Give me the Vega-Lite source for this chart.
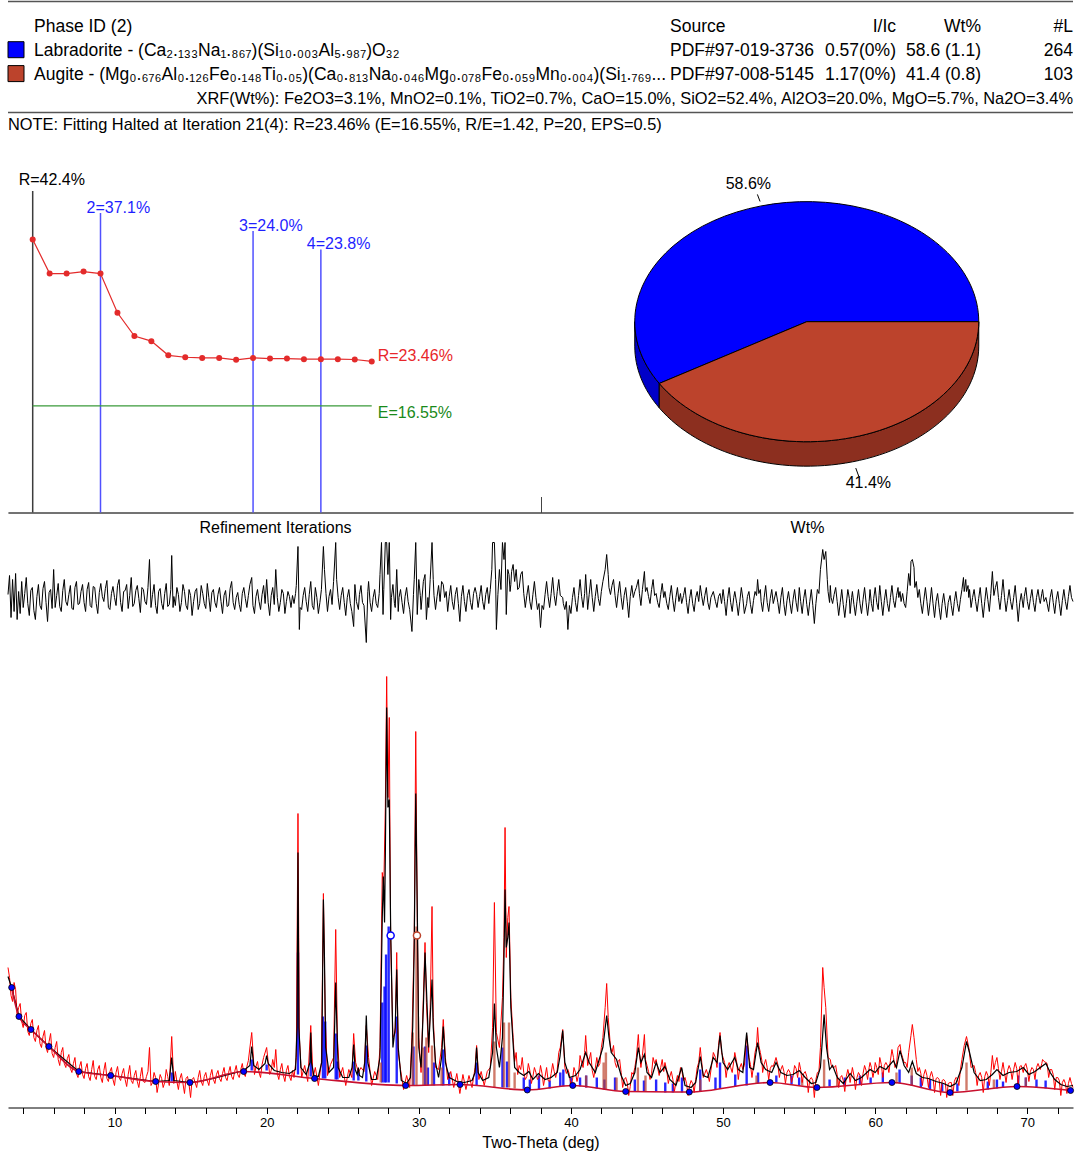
{
"$schema": "https://vega.github.io/schema/vega-lite/v6.json",
"padding": {"left": 5, "top": 0.5, "right": 8, "bottom": 4},
"background": "white",
"bounds": "flush",
"spacing": 0,
"config": {"font": "Liberation Sans", "view": {"stroke": null}, "axis": {"grid": false}},
"datasets": {
"table": [
{"row": "hdr", "name": "Phase ID (2)", "source": "Source", "iic": "I/Ic", "wtText": "Wt%", "nl": "#L"},
{"row": "Labradorite", "name": "Labradorite - (Ca₂.₁₃₃Na₁.₈₆₇)(Si₁₀.₀₀₃Al₅.₉₈₇)O₃₂", "source": "PDF#97-019-3736", "iic": "0.57(0%)", "wtText": "58.6 (1.1)", "nl": "264"},
{"row": "Augite", "name": "Augite - (Mg₀.₆₇₆Al₀.₁₂₆Fe₀.₁₄₈Ti₀.₀₅)(Ca₀.₈₁₃Na₀.₀₄₆Mg₀.₀₇₈Fe₀.₀₅₉Mn₀.₀₀₄)(Si₁.₇₆₉...", "source": "PDF#97-008-5145", "iic": "1.17(0%)", "wtText": "41.4 (0.8)", "nl": "103"}
],
"xrf": [{"row": "xrf", "text": "XRF(Wt%): Fe2O3=3.1%, MnO2=0.1%, TiO2=0.7%, CaO=15.0%, SiO2=52.4%, Al2O3=20.0%, MgO=5.7%, Na2O=3.4%"}],
"pie": [{"phase": "Labradorite", "wt": 58.6, "label": "58.6%"}, {"phase": "Augite", "wt": 41.4, "label": "41.4%"}],
"iters": [{"it":0,"R":42.4},{"it":1,"R":37.1},{"it":2,"R":37.1},{"it":3,"R":37.4},{"it":4,"R":37.1},{"it":5,"R":31.0},{"it":6,"R":27.4},{"it":7,"R":26.6},{"it":8,"R":24.4},{"it":9,"R":24.1},{"it":10,"R":24.0},{"it":11,"R":24.0},{"it":12,"R":23.7},{"it":13,"R":24.0},{"it":14,"R":23.9},{"it":15,"R":23.9},{"it":16,"R":23.8},{"it":17,"R":23.8},{"it":18,"R":23.8},{"it":19,"R":23.75},{"it":20,"R":23.46}],
"stages": [{"it":0,"R":42.4,"kind":"start","label":"R=42.4%","top":49.9},{"it":4,"R":37.1,"kind":"stage","label":"2=37.1%","top":46.5},{"it":13,"R":24.0,"kind":"stage","label":"3=24.0%","top":43.7},{"it":17,"R":23.8,"kind":"stage","label":"4=23.8%","top":40.85}],
"fit": [{"first":0,"last":20,"R":23.46,"E":16.55,"rText":"R=23.46%","eText":"E=16.55%"}],
"obs": [{"t":3,"y":140},{"t":3.2,"y":112},{"t":3.4,"y":125},{"t":3.6,"y":92},{"t":3.8,"y":104},{"t":4,"y":80},{"t":4.2,"y":95},{"t":4.4,"y":72},{"t":4.6,"y":88},{"t":4.8,"y":66},{"t":5,"y":82},{"t":5.2,"y":60},{"t":5.4,"y":77},{"t":5.6,"y":55},{"t":5.8,"y":74},{"t":6,"y":50},{"t":6.2,"y":66},{"t":6.4,"y":42},{"t":6.6,"y":60},{"t":6.8,"y":40},{"t":7,"y":53},{"t":7.2,"y":35},{"t":7.4,"y":50},{"t":7.6,"y":30},{"t":7.8,"y":46},{"t":8,"y":29},{"t":8.2,"y":44},{"t":8.4,"y":27},{"t":8.6,"y":47},{"t":8.8,"y":28},{"t":9,"y":42},{"t":9.2,"y":25},{"t":9.4,"y":45},{"t":9.6,"y":26},{"t":9.8,"y":40},{"t":10,"y":22},{"t":10.2,"y":41},{"t":10.4,"y":27},{"t":10.6,"y":39},{"t":10.8,"y":21},{"t":11,"y":42},{"t":11.2,"y":24},{"t":11.4,"y":37},{"t":11.6,"y":20},{"t":11.8,"y":40},{"t":12,"y":25},{"t":12.2,"y":36},{"t":12.3,"y":60},{"t":12.4,"y":22},{"t":12.6,"y":35},{"t":12.8,"y":15},{"t":13,"y":33},{"t":13.2,"y":20},{"t":13.4,"y":38},{"t":13.6,"y":22},{"t":13.76,"y":71},{"t":13.9,"y":24},{"t":14,"y":36},{"t":14.2,"y":18},{"t":14.4,"y":34},{"t":14.6,"y":14},{"t":14.8,"y":31},{"t":15,"y":10},{"t":15.2,"y":30},{"t":15.4,"y":20},{"t":15.6,"y":37},{"t":15.8,"y":22},{"t":16,"y":35},{"t":16.2,"y":22},{"t":16.4,"y":38},{"t":16.6,"y":24},{"t":16.8,"y":37},{"t":17,"y":26},{"t":17.2,"y":40},{"t":17.4,"y":27},{"t":17.6,"y":41},{"t":17.8,"y":28},{"t":18,"y":42},{"t":18.2,"y":30},{"t":18.4,"y":44},{"t":18.6,"y":31},{"t":18.8,"y":47},{"t":19.02,"y":75},{"t":19.2,"y":33},{"t":19.4,"y":46},{"t":19.6,"y":30},{"t":19.8,"y":50},{"t":20,"y":60},{"t":20.2,"y":33},{"t":20.4,"y":48},{"t":20.6,"y":58},{"t":20.8,"y":28},{"t":21,"y":44},{"t":21.2,"y":26},{"t":21.4,"y":42},{"t":21.6,"y":27},{"t":21.8,"y":30},{"t":21.95,"y":50},{"t":22.06,"y":294},{"t":22.15,"y":70},{"t":22.3,"y":30},{"t":22.5,"y":42},{"t":22.7,"y":26},{"t":22.9,"y":82},{"t":23.05,"y":30},{"t":23.2,"y":40},{"t":23.4,"y":22},{"t":23.6,"y":45},{"t":23.73,"y":214},{"t":23.85,"y":90},{"t":24,"y":32},{"t":24.2,"y":43},{"t":24.4,"y":50},{"t":24.54,"y":178},{"t":24.65,"y":70},{"t":24.8,"y":30},{"t":25,"y":40},{"t":25.2,"y":22},{"t":25.4,"y":38},{"t":25.6,"y":30},{"t":25.72,"y":74},{"t":25.85,"y":45},{"t":26.03,"y":35},{"t":26.2,"y":40},{"t":26.4,"y":36},{"t":26.55,"y":82},{"t":26.7,"y":50},{"t":26.9,"y":22},{"t":27.1,"y":36},{"t":27.3,"y":28},{"t":27.45,"y":60},{"t":27.6,"y":235},{"t":27.7,"y":220},{"t":27.8,"y":300},{"t":27.89,"y":431},{"t":27.97,"y":310},{"t":28.06,"y":390},{"t":28.15,"y":170},{"t":28.3,"y":70},{"t":28.45,"y":75},{"t":28.55,"y":155},{"t":28.65,"y":55},{"t":28.8,"y":38},{"t":29,"y":18},{"t":29.2,"y":32},{"t":29.4,"y":20},{"t":29.55,"y":70},{"t":29.7,"y":170},{"t":29.8,"y":376},{"t":29.9,"y":190},{"t":30,"y":70},{"t":30.15,"y":35},{"t":30.3,"y":110},{"t":30.41,"y":165},{"t":30.5,"y":105},{"t":30.65,"y":55},{"t":30.75,"y":100},{"t":30.87,"y":201},{"t":30.95,"y":90},{"t":31.1,"y":40},{"t":31.3,"y":38},{"t":31.5,"y":60},{"t":31.61,"y":88},{"t":31.75,"y":50},{"t":31.9,"y":28},{"t":32.1,"y":36},{"t":32.3,"y":20},{"t":32.5,"y":34},{"t":32.7,"y":14},{"t":32.9,"y":33},{"t":33.1,"y":18},{"t":33.3,"y":32},{"t":33.5,"y":20},{"t":33.7,"y":40},{"t":33.8,"y":62},{"t":33.95,"y":28},{"t":34.1,"y":36},{"t":34.3,"y":22},{"t":34.5,"y":36},{"t":34.7,"y":40},{"t":34.85,"y":80},{"t":34.97,"y":205},{"t":35.1,"y":75},{"t":35.3,"y":60},{"t":35.5,"y":110},{"t":35.6,"y":170},{"t":35.67,"y":280},{"t":35.75,"y":150},{"t":35.85,"y":190},{"t":35.93,"y":201},{"t":36.05,"y":110},{"t":36.2,"y":70},{"t":36.4,"y":55},{"t":36.6,"y":42},{"t":36.8,"y":50},{"t":37,"y":28},{"t":37.2,"y":44},{"t":37.4,"y":24},{"t":37.6,"y":40},{"t":37.8,"y":28},{"t":38,"y":42},{"t":38.2,"y":22},{"t":38.4,"y":40},{"t":38.6,"y":26},{"t":38.8,"y":44},{"t":39,"y":30},{"t":39.2,"y":55},{"t":39.46,"y":78},{"t":39.6,"y":40},{"t":39.8,"y":38},{"t":40,"y":22},{"t":40.2,"y":40},{"t":40.4,"y":26},{"t":40.6,"y":52},{"t":40.8,"y":40},{"t":40.97,"y":72},{"t":41.1,"y":42},{"t":41.3,"y":55},{"t":41.5,"y":30},{"t":41.7,"y":50},{"t":41.9,"y":44},{"t":42.1,"y":70},{"t":42.25,"y":100},{"t":42.35,"y":124},{"t":42.45,"y":90},{"t":42.6,"y":60},{"t":42.8,"y":62},{"t":43,"y":40},{"t":43.2,"y":48},{"t":43.4,"y":20},{"t":43.6,"y":30},{"t":43.8,"y":12},{"t":44,"y":35},{"t":44.2,"y":40},{"t":44.43,"y":73},{"t":44.6,"y":40},{"t":44.83,"y":73},{"t":45,"y":42},{"t":45.2,"y":28},{"t":45.4,"y":50},{"t":45.6,"y":48},{"t":45.8,"y":32},{"t":46,"y":48},{"t":46.18,"y":45},{"t":46.4,"y":24},{"t":46.6,"y":36},{"t":46.8,"y":16},{"t":47,"y":32},{"t":47.28,"y":38},{"t":47.5,"y":30},{"t":47.7,"y":12},{"t":47.9,"y":27},{"t":48.1,"y":15},{"t":48.3,"y":40},{"t":48.5,"y":60},{"t":48.7,"y":30},{"t":48.9,"y":38},{"t":49.1,"y":26},{"t":49.36,"y":55},{"t":49.6,"y":40},{"t":49.8,"y":75},{"t":50,"y":50},{"t":50.2,"y":30},{"t":50.4,"y":45},{"t":50.6,"y":35},{"t":50.77,"y":55},{"t":51,"y":28},{"t":51.2,"y":44},{"t":51.4,"y":42},{"t":51.55,"y":72},{"t":51.7,"y":50},{"t":51.9,"y":30},{"t":52.1,"y":55},{"t":52.27,"y":80},{"t":52.45,"y":55},{"t":52.6,"y":35},{"t":52.8,"y":48},{"t":53,"y":28},{"t":53.2,"y":42},{"t":53.48,"y":50},{"t":53.7,"y":30},{"t":53.9,"y":42},{"t":54.1,"y":24},{"t":54.3,"y":38},{"t":54.5,"y":25},{"t":54.7,"y":42},{"t":54.9,"y":30},{"t":55.01,"y":45},{"t":55.2,"y":25},{"t":55.4,"y":36},{"t":55.6,"y":15},{"t":55.8,"y":30},{"t":56,"y":10},{"t":56.2,"y":35},{"t":56.4,"y":60},{"t":56.55,"y":140},{"t":56.64,"y":120},{"t":56.75,"y":100},{"t":56.9,"y":50},{"t":57.05,"y":48},{"t":57.2,"y":40},{"t":57.4,"y":42},{"t":57.6,"y":20},{"t":57.8,"y":32},{"t":58,"y":16},{"t":58.2,"y":38},{"t":58.35,"y":25},{"t":58.5,"y":40},{"t":58.7,"y":18},{"t":58.9,"y":35},{"t":59.1,"y":22},{"t":59.3,"y":42},{"t":59.5,"y":28},{"t":59.66,"y":45},{"t":59.85,"y":30},{"t":60,"y":45},{"t":60.2,"y":33},{"t":60.3,"y":50},{"t":60.5,"y":30},{"t":60.7,"y":45},{"t":60.9,"y":35},{"t":61.1,"y":58},{"t":61.3,"y":40},{"t":61.5,"y":60},{"t":61.63,"y":63},{"t":61.8,"y":50},{"t":62,"y":45},{"t":62.2,"y":55},{"t":62.35,"y":72},{"t":62.44,"y":83},{"t":62.55,"y":70},{"t":62.7,"y":48},{"t":62.9,"y":40},{"t":63.1,"y":22},{"t":63.3,"y":38},{"t":63.5,"y":20},{"t":63.7,"y":36},{"t":63.9,"y":15},{"t":64.1,"y":30},{"t":64.3,"y":12},{"t":64.5,"y":28},{"t":64.7,"y":10},{"t":64.92,"y":25},{"t":65.1,"y":12},{"t":65.3,"y":30},{"t":65.5,"y":22},{"t":65.7,"y":48},{"t":65.85,"y":62},{"t":66,"y":71},{"t":66.15,"y":60},{"t":66.3,"y":40},{"t":66.5,"y":42},{"t":66.7,"y":22},{"t":66.9,"y":35},{"t":67.1,"y":15},{"t":67.3,"y":36},{"t":67.5,"y":22},{"t":67.7,"y":52},{"t":67.9,"y":45},{"t":68,"y":50},{"t":68.2,"y":28},{"t":68.4,"y":45},{"t":68.6,"y":25},{"t":68.8,"y":42},{"t":69,"y":28},{"t":69.2,"y":45},{"t":69.4,"y":22},{"t":69.6,"y":42},{"t":69.73,"y":35},{"t":69.9,"y":44},{"t":70.1,"y":26},{"t":70.3,"y":40},{"t":70.5,"y":28},{"t":70.7,"y":44},{"t":70.85,"y":38},{"t":71,"y":48},{"t":71.22,"y":45},{"t":71.4,"y":30},{"t":71.6,"y":38},{"t":71.8,"y":18},{"t":72,"y":30},{"t":72.2,"y":12},{"t":72.4,"y":28},{"t":72.6,"y":14},{"t":72.8,"y":30},{"t":73,"y":20},
{"t":3.1,"y":130},{"t":3.3,"y":106},{"t":3.5,"y":118},{"t":3.7,"y":100},{"t":3.9,"y":86},{"t":4.1,"y":92},{"t":4.3,"y":76},{"t":4.5,"y":84},{"t":4.7,"y":70},{"t":4.9,"y":77},{"t":5.1,"y":64},{"t":5.3,"y":71},{"t":5.5,"y":60},{"t":5.7,"y":66},{"t":5.9,"y":54},{"t":6.1,"y":60},{"t":6.3,"y":48},{"t":6.5,"y":55},{"t":6.7,"y":44},{"t":6.9,"y":49},{"t":7.1,"y":39},{"t":7.3,"y":44},{"t":7.5,"y":34},{"t":7.7,"y":41},{"t":7.9,"y":33},{"t":8.1,"y":39},{"t":8.3,"y":31},{"t":8.5,"y":38},{"t":8.7,"y":31},{"t":8.9,"y":38},{"t":9.1,"y":30},{"t":9.3,"y":37},{"t":9.5,"y":29},{"t":9.7,"y":36},{"t":9.9,"y":28},{"t":10.1,"y":35},{"t":10.3,"y":30},{"t":10.5,"y":34},{"t":10.7,"y":28},{"t":10.9,"y":33},{"t":11.1,"y":27},{"t":11.3,"y":32},{"t":11.5,"y":26},{"t":11.7,"y":31},{"t":11.9,"y":26},{"t":12.1,"y":31},{"t":12.5,"y":25},{"t":12.7,"y":30},{"t":12.9,"y":24},{"t":13.1,"y":29},{"t":13.3,"y":25},{"t":13.5,"y":31},{"t":14.1,"y":26},{"t":14.3,"y":29},{"t":14.5,"y":24},{"t":14.7,"y":29},{"t":14.9,"y":23},{"t":15.1,"y":28},{"t":15.3,"y":25},{"t":15.5,"y":30},{"t":15.7,"y":26},{"t":15.9,"y":31},{"t":16.1,"y":27},{"t":16.3,"y":32},{"t":16.5,"y":28},{"t":16.7,"y":33},{"t":16.9,"y":29},{"t":17.1,"y":34},{"t":17.3,"y":30},{"t":17.5,"y":35},{"t":17.7,"y":31},{"t":17.9,"y":36},{"t":18.1,"y":33},{"t":18.3,"y":38},{"t":18.5,"y":34},{"t":18.7,"y":41},{"t":19.3,"y":41},{"t":19.5,"y":35},{"t":19.7,"y":43},{"t":20.1,"y":46},{"t":20.3,"y":37},{"t":20.5,"y":40},{"t":20.7,"y":34},{"t":20.9,"y":38},{"t":21.1,"y":32},{"t":21.3,"y":37},{"t":21.5,"y":31},{"t":21.7,"y":37},
{"t":36.3,"y":46},{"t":36.5,"y":33},{"t":36.7,"y":38},{"t":36.9,"y":35},{"t":37.1,"y":31},{"t":37.3,"y":37},{"t":37.5,"y":31},{"t":37.7,"y":35},{"t":37.9,"y":30},{"t":38.1,"y":34},{"t":38.3,"y":31},{"t":38.5,"y":27},{"t":38.7,"y":34},{"t":38.9,"y":36},{"t":39.1,"y":38},{"t":39.3,"y":60},{"t":39.7,"y":34},{"t":39.9,"y":33},{"t":40.1,"y":27},{"t":40.3,"y":35},{"t":40.5,"y":33},{"t":40.7,"y":45},{"t":40.9,"y":55},{"t":41.2,"y":48},{"t":41.4,"y":37},{"t":41.6,"y":39},{"t":41.8,"y":41},{"t":42,"y":60},{"t":42.7,"y":55},{"t":42.9,"y":45},{"t":43.1,"y":46},{"t":43.3,"y":35},{"t":43.5,"y":28},{"t":43.7,"y":25},{"t":43.9,"y":21},{"t":44.1,"y":33},{"t":44.3,"y":50},{"t":44.5,"y":55},{"t":44.7,"y":52},{"t":44.9,"y":48},{"t":45.1,"y":36},{"t":45.3,"y":34},{"t":45.5,"y":44},{"t":45.7,"y":40},{"t":45.9,"y":40},{"t":46.1,"y":36},{"t":46.3,"y":37},{"t":46.5,"y":31},{"t":46.7,"y":28},{"t":46.9,"y":25},{"t":47.1,"y":26},{"t":47.2,"y":40},{"t":47.4,"y":27},{"t":47.6,"y":24},{"t":47.8,"y":22},{"t":48,"y":24},{"t":48.2,"y":28},{"t":48.4,"y":45},{"t":48.6,"y":45},{"t":48.8,"y":34},{"t":49,"y":33},{"t":49.2,"y":37},{"t":49.5,"y":50},{"t":49.7,"y":62},{"t":49.9,"y":55},{"t":50.1,"y":45},{"t":50.3,"y":41},{"t":50.5,"y":40},{"t":50.7,"y":46},{"t":50.9,"y":45},{"t":51.1,"y":40},{"t":51.3,"y":38},{"t":51.5,"y":62},{"t":51.65,"y":58},{"t":51.8,"y":43},{"t":52,"y":42},{"t":52.2,"y":62},{"t":52.35,"y":62},{"t":52.55,"y":47},{"t":52.7,"y":43},{"t":52.9,"y":40},{"t":53.1,"y":39},{"t":53.3,"y":41},{"t":53.6,"y":43},{"t":53.8,"y":38},{"t":54,"y":36},{"t":54.2,"y":35},{"t":54.4,"y":35},{"t":54.6,"y":31},{"t":54.8,"y":39},{"t":55.1,"y":38},{"t":55.3,"y":34},{"t":55.5,"y":31},{"t":55.7,"y":28},{"t":55.9,"y":27},{"t":56.1,"y":28},{"t":56.3,"y":36},{"t":57.1,"y":43},{"t":57.3,"y":40},{"t":57.5,"y":33},{"t":57.7,"y":30},{"t":57.9,"y":27},{"t":58.1,"y":31},{"t":58.3,"y":31},{"t":58.6,"y":32},{"t":58.8,"y":30},{"t":59,"y":32},{"t":59.2,"y":34},{"t":59.4,"y":37},{"t":59.6,"y":40},{"t":59.75,"y":40},{"t":59.95,"y":38},{"t":60.1,"y":40},{"t":60.4,"y":43},{"t":60.6,"y":42},{"t":60.8,"y":42},{"t":61,"y":47},{"t":61.2,"y":50},{"t":61.4,"y":43},{"t":61.7,"y":55},{"t":61.9,"y":45},{"t":62.1,"y":40},{"t":62.8,"y":36},{"t":63,"y":34},{"t":63.2,"y":33},{"t":63.4,"y":32},{"t":63.6,"y":31},{"t":63.8,"y":30},{"t":64,"y":29},{"t":64.2,"y":28},{"t":64.4,"y":27},{"t":64.6,"y":26},{"t":64.8,"y":24},{"t":65,"y":25},{"t":65.2,"y":26},{"t":65.4,"y":29},{"t":65.6,"y":38},{"t":66.4,"y":41},{"t":66.6,"y":35},{"t":66.8,"y":32},{"t":67,"y":30},{"t":67.2,"y":31},{"t":67.4,"y":32},{"t":67.6,"y":35},{"t":67.8,"y":38},{"t":68.1,"y":39},{"t":68.3,"y":36},{"t":68.5,"y":35},{"t":68.7,"y":37},{"t":68.9,"y":38},{"t":69.1,"y":38},{"t":69.3,"y":39},{"t":69.5,"y":41},{"t":69.8,"y":41},{"t":70,"y":38},{"t":70.2,"y":36},{"t":70.4,"y":38},{"t":70.6,"y":40},{"t":70.95,"y":44},{"t":71.1,"y":46},{"t":71.3,"y":44},{"t":71.5,"y":38},{"t":71.7,"y":33},{"t":71.9,"y":30},{"t":72.1,"y":27},{"t":72.3,"y":25},{"t":72.5,"y":24},{"t":72.7,"y":24},{"t":72.9,"y":24}],
"calc": [{"t":3,"y":131},{"t":3.24,"y":120},{"t":3.72,"y":91},{"t":4.51,"y":78},{"t":5.69,"y":61},{"t":7.65,"y":36},{"t":9.75,"y":32},{"t":12.71,"y":26},{"t":13.6,"y":27},{"t":13.76,"y":50},{"t":13.9,"y":27},{"t":14.96,"y":25},{"t":15.5,"y":26},{"t":16.5,"y":29},{"t":17.5,"y":33},{"t":18.5,"y":37},{"t":18.9,"y":42},{"t":19.02,"y":61},{"t":19.15,"y":42},{"t":19.5,"y":38},{"t":19.9,"y":44},{"t":20,"y":52},{"t":20.1,"y":44},{"t":20.5,"y":37},{"t":21,"y":35},{"t":21.5,"y":34},{"t":21.9,"y":38},{"t":22,"y":80},{"t":22.06,"y":255},{"t":22.12,"y":80},{"t":22.25,"y":40},{"t":22.6,"y":33},{"t":22.85,"y":45},{"t":22.9,"y":75},{"t":22.95,"y":45},{"t":23.1,"y":32},{"t":23.4,"y":31},{"t":23.62,"y":45},{"t":23.73,"y":208},{"t":23.8,"y":150},{"t":23.88,"y":60},{"t":24.1,"y":35},{"t":24.4,"y":40},{"t":24.5,"y":100},{"t":24.54,"y":125},{"t":24.6,"y":90},{"t":24.7,"y":40},{"t":25,"y":30},{"t":25.4,"y":30},{"t":25.62,"y":40},{"t":25.72,"y":63},{"t":25.82,"y":38},{"t":25.95,"y":33},{"t":26.03,"y":40},{"t":26.1,"y":32},{"t":26.3,"y":30},{"t":26.45,"y":45},{"t":26.55,"y":92},{"t":26.65,"y":45},{"t":26.9,"y":28},{"t":27.2,"y":28},{"t":27.45,"y":50},{"t":27.6,"y":190},{"t":27.67,"y":231},{"t":27.75,"y":185},{"t":27.8,"y":250},{"t":27.89,"y":400},{"t":27.97,"y":300},{"t":28.06,"y":308},{"t":28.15,"y":180},{"t":28.3,"y":60},{"t":28.45,"y":80},{"t":28.55,"y":138},{"t":28.65,"y":60},{"t":28.85,"y":27},{"t":29.2,"y":24},{"t":29.45,"y":30},{"t":29.6,"y":80},{"t":29.7,"y":160},{"t":29.8,"y":314},{"t":29.9,"y":200},{"t":30,"y":60},{"t":30.15,"y":40},{"t":30.3,"y":100},{"t":30.41,"y":155},{"t":30.5,"y":120},{"t":30.65,"y":60},{"t":30.75,"y":90},{"t":30.87,"y":128},{"t":30.95,"y":80},{"t":31.1,"y":45},{"t":31.3,"y":30},{"t":31.5,"y":50},{"t":31.61,"y":81},{"t":31.75,"y":45},{"t":32,"y":30},{"t":32.5,"y":26},{"t":33,"y":25},{"t":33.5,"y":27},{"t":33.7,"y":35},{"t":33.8,"y":60},{"t":33.9,"y":35},{"t":34.2,"y":27},{"t":34.6,"y":30},{"t":34.85,"y":55},{"t":34.97,"y":104},{"t":35.1,"y":60},{"t":35.3,"y":40},{"t":35.5,"y":70},{"t":35.6,"y":150},{"t":35.67,"y":218},{"t":35.75,"y":160},{"t":35.85,"y":170},{"t":35.93,"y":185},{"t":36.05,"y":100},{"t":36.3,"y":40},{"t":36.6,"y":35},{"t":36.9,"y":32},{"t":37.24,"y":36},{"t":37.5,"y":28},{"t":37.86,"y":34},{"t":38.3,"y":28},{"t":38.7,"y":30},{"t":39.1,"y":35},{"t":39.28,"y":51},{"t":39.46,"y":77},{"t":39.6,"y":45},{"t":39.9,"y":30},{"t":40.3,"y":32},{"t":40.6,"y":38},{"t":40.97,"y":55},{"t":41.2,"y":45},{"t":41.6,"y":35},{"t":41.8,"y":45},{"t":42.1,"y":60},{"t":42.35,"y":92},{"t":42.5,"y":70},{"t":42.65,"y":55},{"t":43,"y":48},{"t":43.3,"y":32},{"t":43.6,"y":22},{"t":43.9,"y":24},{"t":44.2,"y":35},{"t":44.43,"y":60},{"t":44.6,"y":45},{"t":44.83,"y":53},{"t":45,"y":35},{"t":45.3,"y":30},{"t":45.6,"y":45},{"t":45.85,"y":35},{"t":46.18,"y":41},{"t":46.5,"y":28},{"t":46.9,"y":22},{"t":47.28,"y":40},{"t":47.5,"y":22},{"t":47.9,"y":20},{"t":48.2,"y":25},{"t":48.5,"y":51},{"t":48.7,"y":32},{"t":49,"y":30},{"t":49.36,"y":50},{"t":49.6,"y":45},{"t":49.8,"y":72},{"t":50,"y":45},{"t":50.3,"y":38},{"t":50.77,"y":50},{"t":51,"y":38},{"t":51.3,"y":35},{"t":51.55,"y":75},{"t":51.75,"y":40},{"t":52,"y":38},{"t":52.27,"y":65},{"t":52.5,"y":45},{"t":52.8,"y":38},{"t":53.2,"y":35},{"t":53.48,"y":45},{"t":53.8,"y":35},{"t":54.2,"y":32},{"t":54.6,"y":33},{"t":55.01,"y":37},{"t":55.4,"y":30},{"t":55.8,"y":24},{"t":56.1,"y":25},{"t":56.4,"y":40},{"t":56.64,"y":93},{"t":56.8,"y":60},{"t":57,"y":38},{"t":57.2,"y":42},{"t":57.5,"y":30},{"t":57.9,"y":24},{"t":58.35,"y":34},{"t":58.7,"y":27},{"t":59.1,"y":30},{"t":59.66,"y":38},{"t":60,"y":35},{"t":60.3,"y":41},{"t":60.7,"y":38},{"t":61.2,"y":47},{"t":61.4,"y":40},{"t":61.63,"y":57},{"t":61.9,"y":42},{"t":62.2,"y":35},{"t":62.44,"y":46},{"t":62.7,"y":34},{"t":63.1,"y":30},{"t":63.5,"y":29},{"t":64,"y":26},{"t":64.5,"y":24},{"t":64.92,"y":21},{"t":65.3,"y":24},{"t":65.7,"y":40},{"t":66,"y":66},{"t":66.2,"y":55},{"t":66.5,"y":35},{"t":66.9,"y":27},{"t":67.3,"y":28},{"t":67.7,"y":33},{"t":68,"y":38},{"t":68.4,"y":32},{"t":68.8,"y":35},{"t":69.3,"y":36},{"t":69.73,"y":40},{"t":70.1,"y":33},{"t":70.5,"y":36},{"t":70.85,"y":40},{"t":71.22,"y":44},{"t":71.5,"y":35},{"t":71.8,"y":28},{"t":72.2,"y":23},{"t":72.6,"y":21},{"t":73,"y":22}],
"bkg": [{"t":3.24,"y":120},{"t":3.72,"y":91},{"t":4.51,"y":78},{"t":5.69,"y":61},{"t":7.65,"y":36},{"t":9.75,"y":32},{"t":12.71,"y":26},{"t":14.96,"y":25},{"t":18.49,"y":36},{"t":23.15,"y":29},{"t":29.14,"y":22},{"t":32.71,"y":23},{"t":37.13,"y":17.5},{"t":40.12,"y":22},{"t":43.6,"y":16},{"t":47.78,"y":15.5},{"t":53.09,"y":25},{"t":56.17,"y":20},{"t":61.1,"y":25},{"t":64.92,"y":15},{"t":69.32,"y":21},{"t":72.84,"y":17}],
"sticks": [
{"t":13.76,"base":26,"top":35,"phase":"Labradorite"},{"t":19.02,"base":37,"top":48,"phase":"Labradorite"},{"t":20.0,"base":37,"top":43,"phase":"Labradorite"},{"t":22.06,"base":33,"top":155,"phase":"Labradorite"},{"t":22.9,"base":31,"top":55,"phase":"Labradorite"},{"t":23.7,"base":29,"top":91,"phase":"Labradorite"},{"t":23.85,"base":29,"top":86,"phase":"Labradorite"},{"t":24.54,"base":28,"top":74,"phase":"Labradorite"},{"t":24.65,"base":28,"top":46,"phase":"Labradorite"},{"t":25.72,"base":27,"top":46,"phase":"Labradorite"},{"t":26.03,"base":27,"top":36,"phase":"Labradorite"},{"t":26.55,"base":26,"top":62,"phase":"Labradorite"},{"t":27.6,"base":25,"top":105,"phase":"Labradorite"},{"t":27.75,"base":25,"top":121,"phase":"Labradorite"},{"t":27.85,"base":25,"top":153,"phase":"Labradorite"},{"t":28.02,"base":25,"top":181,"phase":"Labradorite"},{"t":28.55,"base":24,"top":91,"phase":"Labradorite"},{"t":29.65,"base":22,"top":61,"phase":"Labradorite"},{"t":30.41,"base":22,"top":61,"phase":"Labradorite"},{"t":30.6,"base":22,"top":40,"phase":"Labradorite"},{"t":31.0,"base":22,"top":45,"phase":"Labradorite"},{"t":31.61,"base":22,"top":58,"phase":"Labradorite"},{"t":32.0,"base":22,"top":35,"phase":"Labradorite"},{"t":33.8,"base":22,"top":45,"phase":"Labradorite"},{"t":35.5,"base":20,"top":60,"phase":"Labradorite"},{"t":35.8,"base":20,"top":46,"phase":"Labradorite"},{"t":36.9,"base":18,"top":30,"phase":"Labradorite"},{"t":37.3,"base":18,"top":28,"phase":"Labradorite"},{"t":37.9,"base":18,"top":32,"phase":"Labradorite"},{"t":38.6,"base":19,"top":27,"phase":"Labradorite"},{"t":39.3,"base":21,"top":35,"phase":"Labradorite"},{"t":39.5,"base":21,"top":38,"phase":"Labradorite"},{"t":40.0,"base":22,"top":30,"phase":"Labradorite"},{"t":40.6,"base":21,"top":30,"phase":"Labradorite"},{"t":41.0,"base":20,"top":32,"phase":"Labradorite"},{"t":41.7,"base":19,"top":30,"phase":"Labradorite"},{"t":42.2,"base":18,"top":28,"phase":"Labradorite"},{"t":42.9,"base":17,"top":30,"phase":"Labradorite"},{"t":44.2,"base":16,"top":28,"phase":"Labradorite"},{"t":44.8,"base":16,"top":27,"phase":"Labradorite"},{"t":45.6,"base":16,"top":28,"phase":"Labradorite"},{"t":46.2,"base":15,"top":25,"phase":"Labradorite"},{"t":46.7,"base":15,"top":24,"phase":"Labradorite"},{"t":47.3,"base":15,"top":30,"phase":"Labradorite"},{"t":48.5,"base":16,"top":38,"phase":"Labradorite"},{"t":49.5,"base":18,"top":30,"phase":"Labradorite"},{"t":49.8,"base":19,"top":45,"phase":"Labradorite"},{"t":50.8,"base":21,"top":33,"phase":"Labradorite"},{"t":51.55,"base":22,"top":62,"phase":"Labradorite"},{"t":52.3,"base":24,"top":35,"phase":"Labradorite"},{"t":53.5,"base":25,"top":32,"phase":"Labradorite"},{"t":54.5,"base":23,"top":32,"phase":"Labradorite"},{"t":55.0,"base":22,"top":30,"phase":"Labradorite"},{"t":57.0,"base":21,"top":28,"phase":"Labradorite"},{"t":58.0,"base":22,"top":30,"phase":"Labradorite"},{"t":59.0,"base":23,"top":32,"phase":"Labradorite"},{"t":59.7,"base":24,"top":30,"phase":"Labradorite"},{"t":60.5,"base":25,"top":35,"phase":"Labradorite"},{"t":61.6,"base":24,"top":38,"phase":"Labradorite"},{"t":62.4,"base":22,"top":32,"phase":"Labradorite"},{"t":63.0,"base":20,"top":30,"phase":"Labradorite"},{"t":63.6,"base":18,"top":28,"phase":"Labradorite"},{"t":64.4,"base":16,"top":24,"phase":"Labradorite"},{"t":65.4,"base":16,"top":24,"phase":"Labradorite"},{"t":67.4,"base":18,"top":26,"phase":"Labradorite"},{"t":68.0,"base":19,"top":28,"phase":"Labradorite"},{"t":68.4,"base":20,"top":26,"phase":"Labradorite"},{"t":69.4,"base":21,"top":32,"phase":"Labradorite"},{"t":69.9,"base":21,"top":30,"phase":"Labradorite"},{"t":70.6,"base":20,"top":28,"phase":"Labradorite"},{"t":71.2,"base":19,"top":27,"phase":"Labradorite"},
{"t":27.5,"base":25,"top":45,"phase":"Augite"},{"t":29.6,"base":22,"top":75,"phase":"Augite"},{"t":29.85,"base":22,"top":181,"phase":"Augite"},{"t":30.3,"base":22,"top":60,"phase":"Augite"},{"t":30.5,"base":22,"top":70,"phase":"Augite"},{"t":30.87,"base":22,"top":62,"phase":"Augite"},{"t":31.5,"base":22,"top":40,"phase":"Augite"},{"t":34.97,"base":20,"top":66,"phase":"Augite"},{"t":35.6,"base":20,"top":85,"phase":"Augite"},{"t":35.93,"base":20,"top":85,"phase":"Augite"},{"t":36.3,"base":19,"top":35,"phase":"Augite"},{"t":41.0,"base":20,"top":32,"phase":"Augite"},{"t":42.15,"base":18,"top":45,"phase":"Augite"},{"t":42.3,"base":18,"top":55,"phase":"Augite"},{"t":43.0,"base":17,"top":30,"phase":"Augite"},{"t":44.4,"base":16,"top":40,"phase":"Augite"},{"t":44.9,"base":16,"top":32,"phase":"Augite"},{"t":48.5,"base":16,"top":28,"phase":"Augite"},{"t":52.2,"base":24,"top":32,"phase":"Augite"},{"t":55.2,"base":22,"top":28,"phase":"Augite"},{"t":56.64,"base":20,"top":48,"phase":"Augite"},{"t":57.5,"base":21,"top":30,"phase":"Augite"},{"t":61.4,"base":24,"top":35,"phase":"Augite"},{"t":62.4,"base":22,"top":40,"phase":"Augite"},{"t":66.0,"base":17,"top":45,"phase":"Augite"},{"t":67.8,"base":19,"top":28,"phase":"Augite"},{"t":69.9,"base":21,"top":30,"phase":"Augite"}],
"markers": [{"t":28.15,"y":172,"phase":"Labradorite"},{"t":29.88,"y":172,"phase":"Augite"}],
"diff": [{"t":3,"y":5},{"t":3.1,"y":24},{"t":3.2,"y":-18},{"t":3.3,"y":20},{"t":3.4,"y":-12},{"t":3.5,"y":26},{"t":3.6,"y":-20},{"t":3.7,"y":8},{"t":3.8,"y":-14},{"t":3.9,"y":18},{"t":4,"y":-8},{"t":4.1,"y":6},{"t":4.2,"y":22},{"t":4.3,"y":-4},{"t":4.4,"y":-16},{"t":4.5,"y":9},{"t":4.6,"y":12},{"t":4.7,"y":-11},{"t":4.8,"y":-20},{"t":4.9,"y":3},{"t":5,"y":15},{"t":5.1,"y":-6},{"t":5.2,"y":-10},{"t":5.3,"y":11},{"t":5.4,"y":18},{"t":5.5,"y":-3},{"t":5.6,"y":-22},{"t":5.7,"y":7},{"t":5.8,"y":10},{"t":5.9,"y":-9},{"t":6,"y":30},{"t":6.1,"y":-8},{"t":6.2,"y":4},{"t":6.3,"y":16},{"t":6.4,"y":-7},{"t":6.5,"y":-12},{"t":6.6,"y":9},{"t":6.7,"y":20},{"t":6.8,"y":-2},{"t":6.9,"y":-6},{"t":7,"y":5},{"t":7.1,"y":14},{"t":7.2,"y":-9},{"t":7.3,"y":-10},{"t":7.4,"y":12},{"t":7.5,"y":18},{"t":7.6,"y":-5},{"t":7.7,"y":-4},{"t":7.8,"y":8},{"t":7.9,"y":15},{"t":8,"y":-3},{"t":8.1,"y":-12},{"t":8.2,"y":10},{"t":8.3,"y":17},{"t":8.4,"y":-6},{"t":8.5,"y":-8},{"t":8.6,"y":13},{"t":8.7,"y":12},{"t":8.8,"y":-4},{"t":8.9,"y":-14},{"t":9,"y":7},{"t":9.1,"y":16},{"t":9.2,"y":3},{"t":9.3,"y":-2},{"t":9.4,"y":11},{"t":9.5,"y":19},{"t":9.6,"y":-8},{"t":9.7,"y":-10},{"t":9.8,"y":6},{"t":9.9,"y":13},{"t":10,"y":2},{"t":10.1,"y":-6},{"t":10.2,"y":14},{"t":10.3,"y":20},{"t":10.4,"y":-3},{"t":10.5,"y":-12},{"t":10.6,"y":8},{"t":10.7,"y":9},{"t":10.8,"y":15},{"t":10.9,"y":-9},{"t":11,"y":4},{"t":11.1,"y":22},{"t":11.2,"y":-7},{"t":11.3,"y":-4},{"t":11.4,"y":9},{"t":11.5,"y":14},{"t":11.6,"y":1},{"t":11.7,"y":-13},{"t":11.8,"y":12},{"t":11.9,"y":10},{"t":12,"y":-2},{"t":12.1,"y":-5},{"t":12.2,"y":12},{"t":12.3,"y":40},{"t":12.4,"y":-8},{"t":12.5,"y":5},{"t":12.6,"y":15},{"t":12.7,"y":-6},{"t":12.8,"y":-14},{"t":12.9,"y":8},{"t":13,"y":11},{"t":13.1,"y":-4},{"t":13.2,"y":-10},{"t":13.3,"y":6},{"t":13.4,"y":16},{"t":13.5,"y":-7},{"t":13.6,"y":-5},{"t":13.7,"y":10},{"t":13.76,"y":44},{"t":13.85,"y":-8},{"t":13.9,"y":3},{"t":14,"y":-6},{"t":14.1,"y":12},{"t":14.2,"y":5},{"t":14.3,"y":-12},{"t":14.4,"y":-3},{"t":14.5,"y":15},{"t":14.6,"y":8},{"t":14.7,"y":-6},{"t":14.8,"y":-10},{"t":14.9,"y":10},{"t":15,"y":4},{"t":15.1,"y":-16},{"t":15.2,"y":-2},{"t":15.3,"y":8},{"t":15.4,"y":11},{"t":15.5,"y":-10},{"t":15.6,"y":-4},{"t":15.7,"y":14},{"t":15.8,"y":6},{"t":15.9,"y":-4},{"t":16,"y":-9},{"t":16.1,"y":16},{"t":16.2,"y":2},{"t":16.3,"y":-12},{"t":16.4,"y":7},{"t":16.5,"y":10},{"t":16.6,"y":-3},{"t":16.7,"y":-8},{"t":16.8,"y":5},{"t":16.9,"y":12},{"t":17,"y":-2},{"t":17.1,"y":-14},{"t":17.2,"y":4},{"t":17.3,"y":9},{"t":17.4,"y":-7},{"t":17.5,"y":-6},{"t":17.6,"y":11},{"t":17.7,"y":18},{"t":17.8,"y":-3},{"t":17.9,"y":-10},{"t":18,"y":2},{"t":18.1,"y":7},{"t":18.2,"y":-5},{"t":18.3,"y":-12},{"t":18.4,"y":6},{"t":18.5,"y":12},{"t":18.6,"y":1},{"t":18.7,"y":-8},{"t":18.8,"y":4},{"t":18.9,"y":15},{"t":19.02,"y":22},{"t":19.1,"y":-6},{"t":19.2,"y":-14},{"t":19.3,"y":3},{"t":19.4,"y":10},{"t":19.5,"y":-2},{"t":19.6,"y":-10},{"t":19.7,"y":5},{"t":19.8,"y":14},{"t":19.9,"y":-4},{"t":20,"y":20},{"t":20.1,"y":-3},{"t":20.2,"y":-16},{"t":20.3,"y":4},{"t":20.4,"y":12},{"t":20.5,"y":-5},{"t":20.6,"y":30},{"t":20.7,"y":2},{"t":20.8,"y":-12},{"t":20.9,"y":-3},{"t":21,"y":10},{"t":21.1,"y":6},{"t":21.2,"y":-14},{"t":21.3,"y":-2},{"t":21.4,"y":8},{"t":21.5,"y":3},{"t":21.6,"y":-8},{"t":21.7,"y":4},{"t":21.8,"y":-4},{"t":21.9,"y":6},{"t":21.95,"y":14},{"t":22.06,"y":53},{"t":22.15,"y":-30},{"t":22.2,"y":-8},{"t":22.3,"y":-10},{"t":22.4,"y":4},{"t":22.5,"y":12},{"t":22.6,"y":-2},{"t":22.7,"y":-12},{"t":22.8,"y":5},{"t":22.9,"y":18},{"t":23,"y":-6},{"t":23.1,"y":-10},{"t":23.2,"y":12},{"t":23.3,"y":2},{"t":23.4,"y":-14},{"t":23.5,"y":-3},{"t":23.6,"y":10},{"t":23.73,"y":53},{"t":23.8,"y":30},{"t":23.9,"y":6},{"t":24,"y":-12},{"t":24.1,"y":3},{"t":24.2,"y":10},{"t":24.3,"y":-5},{"t":24.4,"y":18},{"t":24.54,"y":57},{"t":24.6,"y":20},{"t":24.7,"y":2},{"t":24.8,"y":-10},{"t":24.9,"y":4},{"t":25,"y":12},{"t":25.1,"y":-3},{"t":25.2,"y":-16},{"t":25.3,"y":2},{"t":25.4,"y":10},{"t":25.5,"y":-4},{"t":25.6,"y":-12},{"t":25.72,"y":-27},{"t":25.8,"y":15},{"t":25.9,"y":-2},{"t":26.03,"y":-10},{"t":26.1,"y":5},{"t":26.2,"y":14},{"t":26.3,"y":-3},{"t":26.4,"y":-6},{"t":26.55,"y":-43},{"t":26.65,"y":8},{"t":26.7,"y":18},{"t":26.8,"y":-3},{"t":26.9,"y":-12},{"t":27,"y":2},{"t":27.1,"y":10},{"t":27.2,"y":-4},{"t":27.3,"y":-8},{"t":27.4,"y":6},{"t":27.45,"y":25},{"t":27.55,"y":57},{"t":27.65,"y":-15},{"t":27.7,"y":10},{"t":27.8,"y":57},{"t":27.89,"y":57},{"t":27.97,"y":25},{"t":28.06,"y":57},{"t":28.15,"y":-20},{"t":28.2,"y":2},{"t":28.3,"y":15},{"t":28.4,"y":-4},{"t":28.45,"y":-8},{"t":28.55,"y":30},{"t":28.65,"y":-12},{"t":28.7,"y":2},{"t":28.8,"y":10},{"t":28.9,"y":-3},{"t":29,"y":-14},{"t":29.1,"y":3},{"t":29.2,"y":12},{"t":29.3,"y":-2},{"t":29.4,"y":-10},{"t":29.55,"y":-32},{"t":29.65,"y":5},{"t":29.7,"y":20},{"t":29.8,"y":57},{"t":29.9,"y":-15},{"t":30,"y":20},{"t":30.1,"y":4},{"t":30.15,"y":-10},{"t":30.3,"y":18},{"t":30.41,"y":25},{"t":30.5,"y":-20},{"t":30.6,"y":2},{"t":30.65,"y":-8},{"t":30.75,"y":20},{"t":30.87,"y":57},{"t":30.95,"y":20},{"t":31,"y":4},{"t":31.1,"y":-10},{"t":31.2,"y":3},{"t":31.3,"y":14},{"t":31.4,"y":-2},{"t":31.5,"y":18},{"t":31.61,"y":15},{"t":31.7,"y":2},{"t":31.8,"y":8},{"t":31.9,"y":-12},{"t":32,"y":3},{"t":32.1,"y":14},{"t":32.2,"y":-2},{"t":32.3,"y":-10},{"t":32.4,"y":5},{"t":32.5,"y":12},{"t":32.6,"y":-4},{"t":32.7,"y":-22},{"t":32.8,"y":3},{"t":32.9,"y":14},{"t":33,"y":-2},{"t":33.1,"y":-12},{"t":33.2,"y":4},{"t":33.3,"y":10},{"t":33.4,"y":-3},{"t":33.5,"y":-10},{"t":33.6,"y":6},{"t":33.7,"y":12},{"t":33.8,"y":5},{"t":33.9,"y":-8},{"t":34,"y":3},{"t":34.1,"y":14},{"t":34.2,"y":-2},{"t":34.3,"y":-10},{"t":34.4,"y":5},{"t":34.5,"y":12},{"t":34.6,"y":-4},{"t":34.7,"y":10},{"t":34.8,"y":30},{"t":34.85,"y":57},{"t":34.97,"y":57},{"t":35.05,"y":20},{"t":35.1,"y":-30},{"t":35.2,"y":5},{"t":35.3,"y":30},{"t":35.4,"y":10},{"t":35.5,"y":57},{"t":35.6,"y":40},{"t":35.67,"y":57},{"t":35.75,"y":-15},{"t":35.85,"y":30},{"t":35.93,"y":25},{"t":36,"y":8},{"t":36.05,"y":15},{"t":36.1,"y":28},{"t":36.2,"y":35},{"t":36.3,"y":18},{"t":36.4,"y":30},{"t":36.5,"y":10},{"t":36.6,"y":12},{"t":36.7,"y":25},{"t":36.8,"y":28},{"t":36.9,"y":6},{"t":37,"y":-8},{"t":37.1,"y":4},{"t":37.2,"y":14},{"t":37.3,"y":-2},{"t":37.4,"y":-10},{"t":37.5,"y":5},{"t":37.6,"y":18},{"t":37.7,"y":2},{"t":37.8,"y":-10},{"t":37.9,"y":-4},{"t":38,"y":-28},{"t":38.1,"y":-6},{"t":38.2,"y":-10},{"t":38.3,"y":5},{"t":38.4,"y":18},{"t":38.5,"y":3},{"t":38.6,"y":-8},{"t":38.7,"y":6},{"t":38.8,"y":22},{"t":38.9,"y":4},{"t":39,"y":-6},{"t":39.1,"y":8},{"t":39.2,"y":20},{"t":39.3,"y":4},{"t":39.46,"y":2},{"t":39.5,"y":-4},{"t":39.6,"y":-10},{"t":39.7,"y":-2},{"t":39.8,"y":-30},{"t":39.9,"y":-6},{"t":40,"y":-14},{"t":40.1,"y":2},{"t":40.2,"y":12},{"t":40.3,"y":-3},{"t":40.4,"y":-12},{"t":40.5,"y":4},{"t":40.6,"y":20},{"t":40.7,"y":3},{"t":40.8,"y":-8},{"t":40.9,"y":6},{"t":40.97,"y":25},{"t":41.05,"y":4},{"t":41.1,"y":-10},{"t":41.2,"y":5},{"t":41.3,"y":20},{"t":41.4,"y":2},{"t":41.5,"y":-12},{"t":41.6,"y":3},{"t":41.7,"y":15},{"t":41.8,"y":1},{"t":41.9,"y":-6},{"t":42,"y":8},{"t":42.1,"y":18},{"t":42.25,"y":30},{"t":42.35,"y":45},{"t":42.45,"y":25},{"t":42.5,"y":12},{"t":42.6,"y":5},{"t":42.7,"y":14},{"t":42.8,"y":20},{"t":42.9,"y":4},{"t":43,"y":-8},{"t":43.1,"y":6},{"t":43.2,"y":18},{"t":43.3,"y":2},{"t":43.4,"y":-10},{"t":43.5,"y":4},{"t":43.6,"y":12},{"t":43.7,"y":-2},{"t":43.8,"y":-18},{"t":43.9,"y":3},{"t":44,"y":14},{"t":44.1,"y":2},{"t":44.2,"y":8},{"t":44.3,"y":12},{"t":44.43,"y":20},{"t":44.5,"y":6},{"t":44.6,"y":-6},{"t":44.7,"y":10},{"t":44.83,"y":28},{"t":44.9,"y":8},{"t":45,"y":12},{"t":45.1,"y":3},{"t":45.2,"y":-4},{"t":45.3,"y":10},{"t":45.4,"y":20},{"t":45.5,"y":4},{"t":45.6,"y":6},{"t":45.7,"y":-3},{"t":45.8,"y":-8},{"t":45.9,"y":5},{"t":46,"y":16},{"t":46.1,"y":2},{"t":46.18,"y":8},{"t":46.3,"y":-4},{"t":46.4,"y":-10},{"t":46.5,"y":3},{"t":46.6,"y":14},{"t":46.7,"y":-1},{"t":46.8,"y":-12},{"t":46.9,"y":2},{"t":47,"y":12},{"t":47.1,"y":-2},{"t":47.2,"y":6},{"t":47.28,"y":-4},{"t":47.4,"y":4},{"t":47.5,"y":12},{"t":47.6,"y":-3},{"t":47.7,"y":-14},{"t":47.8,"y":1},{"t":47.9,"y":10},{"t":48,"y":-4},{"t":48.1,"y":-12},{"t":48.2,"y":2},{"t":48.3,"y":8},{"t":48.4,"y":-2},{"t":48.5,"y":14},{"t":48.6,"y":3},{"t":48.7,"y":-6},{"t":48.8,"y":4},{"t":48.9,"y":12},{"t":49,"y":-3},{"t":49.1,"y":-10},{"t":49.2,"y":2},{"t":49.36,"y":8},{"t":49.5,"y":-2},{"t":49.6,"y":-8},{"t":49.7,"y":3},{"t":49.8,"y":6},{"t":49.9,"y":-4},{"t":50,"y":10},{"t":50.1,"y":-2},{"t":50.2,"y":-16},{"t":50.3,"y":1},{"t":50.4,"y":12},{"t":50.5,"y":-3},{"t":50.6,"y":-12},{"t":50.7,"y":2},{"t":50.77,"y":8},{"t":50.9,"y":-4},{"t":51,"y":-16},{"t":51.1,"y":-2},{"t":51.2,"y":12},{"t":51.3,"y":1},{"t":51.4,"y":-14},{"t":51.55,"y":-4},{"t":51.6,"y":3},{"t":51.7,"y":8},{"t":51.8,"y":-5},{"t":51.9,"y":-14},{"t":52,"y":-1},{"t":52.1,"y":8},{"t":52.2,"y":4},{"t":52.27,"y":20},{"t":52.35,"y":6},{"t":52.45,"y":10},{"t":52.5,"y":-2},{"t":52.6,"y":-12},{"t":52.7,"y":2},{"t":52.8,"y":14},{"t":52.9,"y":-3},{"t":53,"y":-12},{"t":53.1,"y":1},{"t":53.2,"y":10},{"t":53.3,"y":-4},{"t":53.48,"y":8},{"t":53.6,"y":-3},{"t":53.7,"y":-14},{"t":53.8,"y":2},{"t":53.9,"y":12},{"t":54,"y":-5},{"t":54.1,"y":-16},{"t":54.2,"y":-1},{"t":54.3,"y":8},{"t":54.4,"y":-4},{"t":54.5,"y":-14},{"t":54.6,"y":0},{"t":54.7,"y":10},{"t":54.8,"y":-3},{"t":54.9,"y":-12},{"t":55.01,"y":12},{"t":55.1,"y":-2},{"t":55.2,"y":-14},{"t":55.3,"y":1},{"t":55.4,"y":10},{"t":55.5,"y":-5},{"t":55.6,"y":-16},{"t":55.7,"y":-2},{"t":55.8,"y":10},{"t":55.9,"y":-6},{"t":56,"y":-24},{"t":56.1,"y":-4},{"t":56.2,"y":10},{"t":56.3,"y":6},{"t":56.4,"y":30},{"t":56.55,"y":50},{"t":56.64,"y":40},{"t":56.75,"y":48},{"t":56.85,"y":20},{"t":56.9,"y":8},{"t":57,"y":-3},{"t":57.05,"y":14},{"t":57.1,"y":2},{"t":57.2,"y":-4},{"t":57.3,"y":5},{"t":57.4,"y":12},{"t":57.5,"y":-2},{"t":57.6,"y":-16},{"t":57.7,"y":-3},{"t":57.8,"y":10},{"t":57.9,"y":-5},{"t":58,"y":-18},{"t":58.1,"y":-4},{"t":58.2,"y":10},{"t":58.3,"y":1},{"t":58.35,"y":-14},{"t":58.45,"y":2},{"t":58.5,"y":8},{"t":58.6,"y":-5},{"t":58.7,"y":-16},{"t":58.8,"y":-2},{"t":58.9,"y":10},{"t":59,"y":-4},{"t":59.1,"y":-14},{"t":59.2,"y":0},{"t":59.3,"y":12},{"t":59.4,"y":-3},{"t":59.5,"y":-16},{"t":59.6,"y":-2},{"t":59.66,"y":10},{"t":59.75,"y":-4},{"t":59.85,"y":-12},{"t":59.9,"y":1},{"t":60,"y":12},{"t":60.1,"y":-3},{"t":60.2,"y":-10},{"t":60.25,"y":4},{"t":60.3,"y":14},{"t":60.4,"y":-2},{"t":60.5,"y":-16},{"t":60.6,"y":-1},{"t":60.7,"y":10},{"t":60.8,"y":-4},{"t":60.9,"y":-12},{"t":61,"y":2},{"t":61.1,"y":14},{"t":61.2,"y":-1},{"t":61.3,"y":-8},{"t":61.4,"y":4},{"t":61.5,"y":12},{"t":61.55,"y":2},{"t":61.63,"y":8},{"t":61.7,"y":-2},{"t":61.8,"y":6},{"t":61.9,"y":-4},{"t":62,"y":-8},{"t":62.1,"y":8},{"t":62.2,"y":26},{"t":62.3,"y":14},{"t":62.35,"y":38},{"t":62.44,"y":40},{"t":62.55,"y":32},{"t":62.6,"y":12},{"t":62.7,"y":18},{"t":62.8,"y":2},{"t":62.9,"y":10},{"t":63,"y":-4},{"t":63.1,"y":-14},{"t":63.2,"y":0},{"t":63.3,"y":12},{"t":63.4,"y":-2},{"t":63.5,"y":-16},{"t":63.6,"y":-3},{"t":63.7,"y":12},{"t":63.8,"y":-4},{"t":63.9,"y":-18},{"t":64,"y":-2},{"t":64.1,"y":6},{"t":64.2,"y":-8},{"t":64.3,"y":-20},{"t":64.4,"y":-4},{"t":64.5,"y":6},{"t":64.6,"y":-6},{"t":64.7,"y":-18},{"t":64.8,"y":-3},{"t":64.92,"y":4},{"t":65,"y":-6},{"t":65.1,"y":-16},{"t":65.2,"y":-2},{"t":65.3,"y":8},{"t":65.4,"y":-4},{"t":65.5,"y":-12},{"t":65.6,"y":0},{"t":65.7,"y":10},{"t":65.8,"y":22},{"t":65.85,"y":8},{"t":65.95,"y":20},{"t":66,"y":8},{"t":66.1,"y":14},{"t":66.15,"y":2},{"t":66.2,"y":10},{"t":66.3,"y":-8},{"t":66.4,"y":2},{"t":66.5,"y":10},{"t":66.6,"y":-2},{"t":66.7,"y":-12},{"t":66.8,"y":1},{"t":66.9,"y":12},{"t":67,"y":-4},{"t":67.1,"y":-18},{"t":67.2,"y":-2},{"t":67.3,"y":12},{"t":67.4,"y":0},{"t":67.5,"y":-12},{"t":67.6,"y":6},{"t":67.7,"y":28},{"t":67.8,"y":4},{"t":67.9,"y":12},{"t":68,"y":18},{"t":68.1,"y":2},{"t":68.2,"y":-10},{"t":68.3,"y":4},{"t":68.4,"y":20},{"t":68.5,"y":2},{"t":68.6,"y":-12},{"t":68.7,"y":-1},{"t":68.8,"y":10},{"t":68.9,"y":-2},{"t":69,"y":-10},{"t":69.1,"y":2},{"t":69.2,"y":14},{"t":69.3,"y":-4},{"t":69.4,"y":-22},{"t":69.5,"y":-3},{"t":69.6,"y":6},{"t":69.73,"y":-8},{"t":69.8,"y":3},{"t":69.9,"y":12},{"t":70,"y":-2},{"t":70.1,"y":-10},{"t":70.2,"y":1},{"t":70.3,"y":10},{"t":70.4,"y":-3},{"t":70.5,"y":-12},{"t":70.6,"y":2},{"t":70.7,"y":10},{"t":70.8,"y":-1},{"t":70.85,"y":-4},{"t":70.95,"y":6},{"t":71,"y":10},{"t":71.1,"y":-2},{"t":71.22,"y":2},{"t":71.3,"y":-4},{"t":71.4,"y":-12},{"t":71.5,"y":2},{"t":71.6,"y":10},{"t":71.7,"y":-3},{"t":71.8,"y":-14},{"t":71.9,"y":0},{"t":72,"y":8},{"t":72.1,"y":-4},{"t":72.2,"y":-16},{"t":72.3,"y":-1},{"t":72.4,"y":10},{"t":72.5,"y":-2},{"t":72.6,"y":-10},{"t":72.7,"y":3},{"t":72.8,"y":14},{"t":72.9,"y":2},{"t":73,"y":-2}]
},
"vconcat": [
{
"width": 1065, "height": 111,
"view": {"stroke": "#555555", "strokeWidth": 1.5, "strokeDash": [1065, 111]},
"title": {"text": "NOTE: Fitting Halted at Iteration 21(4): R=23.46% (E=16.55%, R/E=1.42, P=20, EPS=0.5)", "orient": "bottom", "anchor": "start", "frame": "group", "offset": 4, "fontSize": 16.4, "fontWeight": "normal", "color": "black", "font": "Liberation Sans"},
"data": {"name": "table"},
"encoding": {"y": {"field": "row", "type": "nominal", "scale": {"type": "point", "domain": ["hdr", "Labradorite", "Augite", "xrf"], "range": [30.3, 102], "padding": 0}, "axis": null}},
"layer": [
{"transform": [{"filter": "datum.row !== 'hdr'"}],
 "mark": {"type": "point", "shape": "M-1 -1.75 L1 -1.75 L1 0.25 L-1 0.25 Z", "filled": true, "size": 256, "stroke": "black", "strokeWidth": 1, "opacity": 1},
 "encoding": {"x": {"datum": 8, "type": "quantitative", "scale": {"domain": [0, 1065], "nice": false}, "axis": null},
   "color": {"field": "row", "type": "nominal", "scale": {"domain": ["Labradorite", "Augite"], "range": ["#0000ff", "#bc432c"]}, "legend": null}}},
{"mark": {"type": "text", "align": "left", "baseline": "alphabetic", "fontSize": 17.5, "color": "black"},
 "encoding": {"x": {"datum": 26, "type": "quantitative", "scale": {"domain": [0, 1065], "nice": false}, "axis": null}, "text": {"field": "name"}}},
{"mark": {"type": "text", "align": "left", "baseline": "alphabetic", "fontSize": 17.5, "color": "black"},
 "encoding": {"x": {"datum": 662, "type": "quantitative", "scale": {"domain": [0, 1065], "nice": false}, "axis": null}, "text": {"field": "source"}}},
{"mark": {"type": "text", "align": "right", "baseline": "alphabetic", "fontSize": 17.5, "color": "black"},
 "encoding": {"x": {"datum": 888, "type": "quantitative", "scale": {"domain": [0, 1065], "nice": false}, "axis": null}, "text": {"field": "iic"}}},
{"mark": {"type": "text", "align": "right", "baseline": "alphabetic", "fontSize": 17.5, "color": "black"},
 "encoding": {"x": {"datum": 973, "type": "quantitative", "scale": {"domain": [0, 1065], "nice": false}, "axis": null}, "text": {"field": "wtText"}}},
{"mark": {"type": "text", "align": "right", "baseline": "alphabetic", "fontSize": 17.5, "color": "black"},
 "encoding": {"x": {"datum": 1065, "type": "quantitative", "scale": {"domain": [0, 1065], "nice": false}, "axis": null}, "text": {"field": "nl"}}},
{"data": {"name": "xrf"},
 "mark": {"type": "text", "align": "right", "baseline": "alphabetic", "fontSize": 16.4, "color": "black"},
 "encoding": {"x": {"datum": 1065, "type": "quantitative", "scale": {"domain": [0, 1065], "nice": false}, "axis": null}, "text": {"field": "text"}}}
]
},
{
"width": 1065, "height": 400,
"resolve": {"scale": {"x": "independent", "y": "independent"}, "axis": {"x": "independent", "y": "independent"}},
"layer": [
{
"layer": [
{"data": {"name": "stages"}, "transform": [{"filter": "datum.kind === 'start'"}],
 "mark": {"type": "rule", "color": "#3c3c3c", "strokeWidth": 1.5},
 "encoding": {
  "x": {"field": "it", "type": "quantitative", "scale": {"domain": [-1.457, 61.37], "nice": false, "zero": false},
        "axis": {"orient": "bottom", "values": [30], "labels": false, "ticks": true, "tickSize": -16, "tickColor": "#444444", "domain": true, "domainColor": "#444444", "grid": false, "title": "Refinement Iterations", "titleX": 267, "titleY": 15, "titleBaseline": "middle", "titleFontSize": 16, "titleFontWeight": "normal", "titleColor": "black", "titleFont": "Liberation Sans"}},
  "y": {"field": "top", "type": "quantitative", "scale": {"domain": [0, 62.1], "nice": false}, "axis": null},
  "y2": {"datum": 0}}},
{"data": {"name": "stages"}, "transform": [{"filter": "datum.kind === 'stage'"}],
 "mark": {"type": "rule", "color": "#5050ff", "strokeWidth": 1.5},
 "encoding": {
  "x": {"field": "it", "type": "quantitative", "scale": {"domain": [-1.457, 61.37], "nice": false, "zero": false}},
  "y": {"field": "top", "type": "quantitative", "scale": {"domain": [0, 62.1], "nice": false}, "axis": null},
  "y2": {"datum": 0}}},
{"data": {"name": "fit"},
 "mark": {"type": "rule", "color": "#3a9a3a", "strokeWidth": 1.2},
 "encoding": {
  "x": {"field": "first", "type": "quantitative", "scale": {"domain": [-1.457, 61.37], "nice": false, "zero": false}},
  "x2": {"field": "last"},
  "y": {"field": "E", "type": "quantitative", "scale": {"domain": [0, 62.1], "nice": false}, "axis": null}}},
{"data": {"name": "iters"},
 "mark": {"type": "line", "color": "#e32b2b", "strokeWidth": 1.2, "point": {"filled": true, "size": 36, "color": "#e32b2b", "opacity": 1}},
 "encoding": {
  "x": {"field": "it", "type": "quantitative", "scale": {"domain": [-1.457, 61.37], "nice": false, "zero": false}},
  "y": {"field": "R", "type": "quantitative", "scale": {"domain": [0, 62.1], "nice": false}, "axis": null}}},
{"data": {"name": "stages"}, "transform": [{"filter": "datum.kind === 'start'"}],
 "mark": {"type": "text", "align": "left", "baseline": "alphabetic", "dx": -14, "dy": -6, "fontSize": 16, "color": "black"},
 "encoding": {
  "x": {"field": "it", "type": "quantitative", "scale": {"domain": [-1.457, 61.37], "nice": false, "zero": false}},
  "y": {"field": "top", "type": "quantitative", "scale": {"domain": [0, 62.1], "nice": false}, "axis": null},
  "text": {"field": "label"}}},
{"data": {"name": "stages"}, "transform": [{"filter": "datum.kind === 'stage'"}],
 "mark": {"type": "text", "align": "left", "baseline": "alphabetic", "dx": -14, "dy": 0, "fontSize": 16, "color": "#1f1fff"},
 "encoding": {
  "x": {"field": "it", "type": "quantitative", "scale": {"domain": [-1.457, 61.37], "nice": false, "zero": false}},
  "y": {"field": "top", "type": "quantitative", "scale": {"domain": [0, 62.1], "nice": false}, "axis": null},
  "text": {"field": "label"}}},
{"data": {"name": "fit"},
 "mark": {"type": "text", "align": "left", "baseline": "middle", "dx": 6, "dy": -5, "fontSize": 16, "color": "#e8262a"},
 "encoding": {
  "x": {"field": "last", "type": "quantitative", "scale": {"domain": [-1.457, 61.37], "nice": false, "zero": false}},
  "y": {"field": "R", "type": "quantitative", "scale": {"domain": [0, 62.1], "nice": false}, "axis": null},
  "text": {"field": "rText"}}},
{"data": {"name": "fit"},
 "mark": {"type": "text", "align": "left", "baseline": "middle", "dx": 6, "dy": 7, "fontSize": 16, "color": "#1a8a1a"},
 "encoding": {
  "x": {"field": "last", "type": "quantitative", "scale": {"domain": [-1.457, 61.37], "nice": false, "zero": false}},
  "y": {"field": "E", "type": "quantitative", "scale": {"domain": [0, 62.1], "nice": false}, "axis": null},
  "text": {"field": "eText"}}}
]
},
{
"data": {"name": "pie"},
"encoding": {
 "x": {"datum": 0, "type": "quantitative", "scale": {"domain": [-3, 1], "nice": false, "zero": false},
       "axis": {"orient": "bottom", "labels": false, "ticks": false, "domain": true, "domainColor": "#444444", "grid": false, "title": "Wt%", "titleX": 799, "titleY": 15, "titleBaseline": "middle", "titleFontSize": 16, "titleFontWeight": "normal", "titleColor": "black", "titleFont": "Liberation Sans"}},
 "y": {"datum": 0, "type": "quantitative", "scale": {"domain": [-0.954, 1.046], "nice": false, "zero": false}, "axis": null}},
"resolve": {"scale": {"color": "independent", "shape": "independent"}},
"layer": [
{"mark": {"type": "point", "filled": true, "size": 118336, "stroke": "black", "strokeWidth": 1, "opacity": 1},
 "encoding": {
  "shape": {"field": "phase", "type": "nominal", "scale": {"domain": ["Labradorite", "Augite"], "range": ["M-1 0 A1 0.698 0 0 0 -0.8575 0.359 L-0.8575 0.501 A1 0.698 0 0 1 -1 0.142 Z", "M-0.8575 0.359 A1 0.698 0 0 0 1 0 L1 0.142 A1 0.698 0 0 1 -0.8575 0.501 Z M0.285 0.851 L0.302 0.898"]}, "legend": null},
  "color": {"field": "phase", "type": "nominal", "scale": {"domain": ["Labradorite", "Augite"], "range": ["#0000c8", "#8c2f1f"]}, "legend": null}}},
{"mark": {"type": "point", "filled": true, "size": 118336, "stroke": "black", "strokeWidth": 1, "opacity": 1},
 "encoding": {
  "shape": {"field": "phase", "type": "nominal", "scale": {"domain": ["Labradorite", "Augite"], "range": ["M0 0 L1 0 A1 0.698 0 1 0 -0.8575 0.359 Z M-0.287 -0.74 L-0.2715 -0.699", "M0 0 L-0.8575 0.359 A1 0.698 0 0 0 1 0 Z"]}, "legend": null},
  "color": {"field": "phase", "type": "nominal", "scale": {"domain": ["Labradorite", "Augite"], "range": ["#0000ff", "#bc432c"]}, "legend": null}}},
{"transform": [{"filter": "datum.phase === 'Labradorite'"}],
 "mark": {"type": "text", "align": "center", "baseline": "middle", "dx": -58.4, "dy": -137.3, "fontSize": 16, "color": "black"},
 "encoding": {"text": {"field": "label"}}},
{"transform": [{"filter": "datum.phase === 'Augite'"}],
 "mark": {"type": "text", "align": "center", "baseline": "middle", "dx": 61.6, "dy": 161.7, "fontSize": 16, "color": "black"},
 "encoding": {"text": {"field": "label"}}}
]
}
]
},
{
"width": 1065, "height": 595,
"encoding": {
 "x": {"field": "t", "type": "quantitative", "scale": {"domain": [3, 73], "nice": false, "zero": false},
       "axis": {"orient": "bottom", "values": [4,6,8,10,12,14,16,18,20,22,24,26,28,30,32,34,36,38,40,42,44,46,48,50,52,54,56,58,60,62,64,66,68,70,72], "labelExpr": "datum.value % 10 === 0 ? datum.label : ''", "tickSize": 6, "tickColor": "black", "domainColor": "black", "labelColor": "black", "labelFontSize": 13, "labelPadding": 3, "labelOverlap": false, "labelFlush": false, "labelFont": "Liberation Sans", "grid": false, "title": "Two-Theta (deg)", "titleFontSize": 16, "titleFontWeight": "normal", "titleColor": "black", "titlePadding": 5, "titleFont": "Liberation Sans"}}},
"resolve": {"scale": {"y": "independent"}, "axis": {"y": "independent"}},
"layer": [
{
"layer": [
{"data": {"name": "sticks"},
 "mark": {"type": "rule", "strokeWidth": 2.4},
 "encoding": {
  "y": {"field": "top", "type": "quantitative", "scale": {"domain": [0, 440], "range": [595, 155], "nice": false}, "axis": null},
  "y2": {"field": "base"},
  "color": {"field": "phase", "type": "nominal", "scale": {"domain": ["Labradorite", "Augite"], "range": ["#1010ff", "#c8735e"]}, "legend": null},
  "opacity": {"field": "phase", "type": "nominal", "scale": {"domain": ["Labradorite", "Augite"], "range": [0.85, 0.7]}, "legend": null}}},
{"data": {"name": "obs"},
 "mark": {"type": "line", "color": "#ff0000", "strokeWidth": 1},
 "encoding": {
  "y": {"field": "y", "type": "quantitative", "scale": {"domain": [0, 440], "range": [595, 155], "nice": false}, "axis": null}}},
{"data": {"name": "calc"},
 "mark": {"type": "line", "color": "#000000", "strokeWidth": 1.2},
 "encoding": {
  "y": {"field": "y", "type": "quantitative", "scale": {"domain": [0, 440], "range": [595, 155], "nice": false}, "axis": null}}},
{"data": {"name": "bkg"},
 "mark": {"type": "line", "color": "#c8102e", "strokeWidth": 1.6, "interpolate": "monotone"},
 "encoding": {
  "y": {"field": "y", "type": "quantitative", "scale": {"domain": [0, 440], "range": [595, 155], "nice": false}, "axis": null}}},
{"data": {"name": "bkg"},
 "mark": {"type": "point", "filled": true, "fill": "#0000ff", "stroke": "black", "strokeWidth": 0.8, "size": 36, "opacity": 1},
 "encoding": {
  "y": {"field": "y", "type": "quantitative", "scale": {"domain": [0, 440], "range": [595, 155], "nice": false}, "axis": null}}},
{"data": {"name": "markers"},
 "mark": {"type": "point", "filled": true, "fill": "white", "strokeWidth": 1.5, "size": 50, "opacity": 1},
 "encoding": {
  "y": {"field": "y", "type": "quantitative", "scale": {"domain": [0, 440], "range": [595, 155], "nice": false}, "axis": null},
  "stroke": {"field": "phase", "type": "nominal", "scale": {"domain": ["Labradorite", "Augite"], "range": ["#0000ff", "#bc432c"]}, "legend": null}}}
]
},
{
"layer": [
{"data": {"name": "fit"},
 "mark": {"type": "rule", "color": "#888888", "strokeWidth": 1},
 "encoding": {
  "x": {"datum": 3, "type": "quantitative"},
  "x2": {"datum": 73},
  "y": {"datum": 0, "type": "quantitative", "scale": {"domain": [-68, 57], "range": [155, 30], "nice": false}, "axis": null}}},
{"data": {"name": "diff"},
 "mark": {"type": "line", "color": "#000000", "strokeWidth": 1},
 "encoding": {
  "y": {"field": "y", "type": "quantitative", "scale": {"domain": [-68, 57], "range": [155, 30], "nice": false}, "axis": null}}}
]
}
]
}
]
}
